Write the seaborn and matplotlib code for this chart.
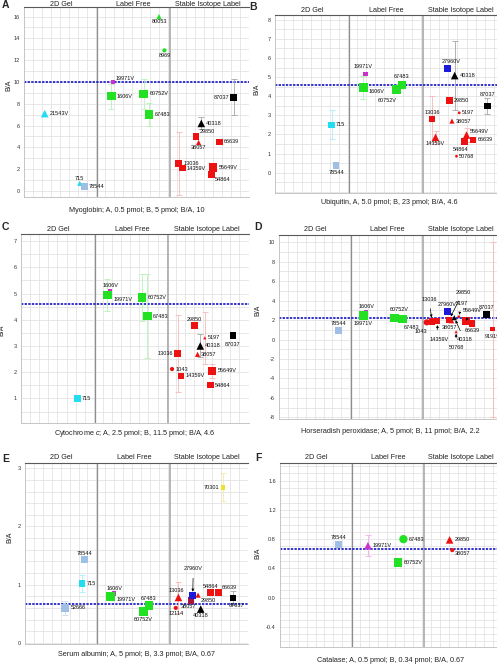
import numpy as np
import pandas as pd
import matplotlib
matplotlib.use("Agg")
import matplotlib.pyplot as plt
import seaborn as sns

sns.set_theme(style="white")
plt.rcParams["font.family"] = ["Liberation Sans", "DejaVu Sans"]
plt.rcParams["mathtext.fontset"] = "custom"
plt.rcParams["mathtext.it"] = "Liberation Sans:italic"
plt.rcParams["mathtext.rm"] = "Liberation Sans"
plt.rcParams["axes.unicode_minus"] = False

# ---------------- data ----------------
SECTIONS = ["2D Gel", "Label Free", "Stable Isotope Label"]
LAB_X = {"21543V": 2.3, "52666": 4.5, "715": 6.2, "78544": 6.7, "1606V": 9.7, "19971V": 9.9,
         "60752V": 13.3, "67483": 13.9, "80053": 15.0, "8969": 15.6, "1043": 16.6, "12114": 16.9,
         "13036": 17.2, "14359V": 17.6, "27960V": 18.9, "29850": 19.1, "38057": 19.4, "40318": 19.7,
         "50768": 19.9, "5197": 20.2, "54864": 20.8, "55649V": 21.0, "66639": 21.7, "70301": 22.2,
         "87037": 23.3, "91919": 24.0}

A_LABS = ["21543V", "715", "78544", "19971V", "1606V", "60752V", "67483", "80053", "8969",
          "13036", "14359V", "29850", "38057", "40318", "54864", "55649V", "66639", "87037"]
A_VALS = [7.1, 0.7, 0.4, 10.0, 8.7, 8.9, 7.0, 16.0, 12.9, 2.5, 2.1, 5.0, 4.45, 6.2, 1.5, 2.15, 4.5, 8.6]
A_ERRS = [0, 0, 0, 0, 1.15, 1.4, 1.05, 0, 0, 2.9, 0, 0, 0, 0.55, 0, 0, 0, 1.65]

B_LABS = ["715", "78544", "19971V", "1606V", "60752V", "67483", "13036", "14359V", "27960V",
          "29850", "40318", "5197", "38057", "50768", "54864", "55649V", "66639", "87037"]
B_VALS = [2.5, 0.37, 5.15, 4.45, 4.35, 4.6, 2.8, 1.85, 5.45, 3.78, 5.08, 3.13, 2.7, 0.86, 1.64, 1.97, 1.71, 3.49]
B_ERRS = [0.76, 0, 0, 0.6, 0, 0, 1.2, 0.35, 0, 0, 1.8, 0, 0, 0, 0, 0.35, 0, 0.42]

C_LABS = ["715", "1606V", "19971V", "60752V", "67483", "29850", "5197", "40318", "87037",
          "13036", "38057", "1043", "14359V", "55649V", "54864"]
C_VALS = [1.0, 5.1, 4.94, 4.85, 4.14, 3.78, 3.31, 3.0, 3.4, 2.72, 2.68, 2.12, 1.86, 2.05, 1.51]
C_ERRS = [0, 0, 0.6, 0.88, 1.6, 0, 1.0, 0.44, 0, 1.46, 0, 0, 0, 0.28, 0]

D_LABS = ["78544", "1606V", "19971V", "60752V", "67483", "1043", "13036", "14359V", "27960V",
          "29850", "38057", "40318", "5197", "55649V", "66639", "87037", "50768", "91919"]
D_VALS = [0.96, 2.8, 2.45, 2.19, 2.12, 1.77, 1.85, 1.9, 2.86, 2.0, 1.93, 2.25, 2.35, 1.93, 1.67, 2.6, 0.8, 1.08]
D_ERRS = [0, 0, 0, 0, 0, 0, 0, 0, 0, 0, 0, 0, 0, 0, 0, 0, 0, 9.0]

E_LABS = ["78544", "715", "52666", "1606V", "19971V", "60752V", "67483", "12114", "13036",
          "38057", "27960V", "29850", "40318", "54864", "66639", "87037", "70301"]
E_VALS = [1.43, 1.02, 0.6, 0.85, 0.8, 0.535, 0.64, 0.6, 0.78, 0.73, 0.81, 0.82, 0.58, 0.865, 0.865, 0.77, 2.67]
E_ERRS = [0, 0.15, 0.12, 0, 0, 0, 0, 0, 0.27, 0, 0, 0, 0, 0, 0, 0.12, 0.24]

F_LABS = ["78544", "19971V", "67483", "60752V", "29850", "38057"]
F_VALS = [0.73, 0.71, 0.8, 0.48, 0.79, 0.65]
F_ERRS = [0, 0.14, 0, 0, 0, 0]

TITLES = {"A": "Myoglobin; A, 0.5 pmol; B, 5 pmol; B/A, 10",
          "B": "Ubiquitin, A, 5.0 pmol; B, 23 pmol; B/A, 4.6",
          "C": "Cytochrome $c$; A, 2.5 pmol; B, 11.5 pmol; B/A, 4.6",
          "D": "Horseradish peroxidase; A, 5 pmol; B, 11 pmol; B/A, 2.2",
          "E": "Serum albumin; A, 5 pmol; B, 3.3 pmol; B/A, 0.67",
          "F": "Catalase; A, 0.5 pmol; B, 0.34 pmol; B/A, 0.67"}
REF = {"A": 10, "B": 4.6, "C": 4.6, "D": 2.2, "E": 0.67, "F": 0.67}
YTICKS = {"A": [0, 2, 4, 6, 8, 10, 12, 14, 16],
          "B": [0, 1, 2, 3, 4, 5, 6, 7, 8],
          "C": [1, 2, 3, 4, 5, 6, 7],
          "D": [-8, -6, -4, -2, 0, 2, 4, 6, 8, 10],
          "E": [0, 1, 2, 3],
          "F": [-0.4, 0.0, 0.4, 0.8, 1.2, 1.6]}

# ---------------- styles ----------------
A_STYLE = ["c^M", "c^S", "lsM", "msS", "gsL", "gsL", "gsL", "g^S", "goS",
           "rsM", "rsM", "rsM", "r^S", "k^M", "rsM", "rsL", "rsM", "ksM"]
A_LPOS = ["r", "a", "r", "ar", "r", "r", "r", "b", "b", "r", "r", "ar", "b", "r", "br", "r", "r", "l"]

B_STYLE = ["csM", "lsM", "msS", "gsL", "gsL", "gsL", "rsM", "r^M", "bsM",
           "rsM", "k^M", "roT", "r^S", "roT", "rsM", "r^M", "rsM", "ksM"]
B_LPOS = ["r", "b", (-2, 7.5, "center"), (5, -4, "left"), (-9, -10.5, "center"), (0, 8.3, "center"),
          "a", "b", (4, 7.3, "center"), "r", "r", "r", "r", "r", (-4, -8, "center"),
          (3.5, 3.3, "left"), "r", (0, 11.5, "center")]

C_STYLE = ["csM", "msS", "gsL", "gsL", "gsL", "rsM", "r^T", "k^M", "ksM",
           "rsM", "r^S", "roS", "rsM", "rsL", "rsM"]
C_LPOS = ["r", "a", (6, -4, "left"), "r", "r", "a", "r", "r", (0, -9, "center"),
          "l", "r", "r", "r", "r", "r"]

D_STYLE = ["lsM", "msS", "gsL", "gsL", "gsL", "roM", "rsM", "rsM", "bsM",
           "rsM", "r^S", "k^S", "roT", "rsL", "rsM", "ksM", "r^T", "rsS"]
D_LPOS = ["a", "a", "b", (4, 9, "center"), (8.6, -8.3, "center"), (-6, -8.7, "center"),
          (-3, 22, "center", True), (2.7, -18, "center", True), (0, 7.5, "center"),
          (14, 28, "center", True), (-1.7, -6.5, "center"), (10, -22, "center", True),
          (3, 13, "center", True), (6.5, 10.5, "center", True), (0, -7.5, "center"),
          (0, 7, "center"), (0, -15.5, "center", True), (0, -7, "center")]

E_STYLE = ["lsM", "csM", "lsL", "msS", "gsL", "gsL", "gsL", "roS", "r^M",
           "dsM", "bsM", "r^S", "k^M", "rsM", "rsM", "ksM", "ysS"]
E_LPOS = ["a", "r", "r", "a", (5.5, -3, "left"), "b", "a", "b", (-2.3, 6.6, "center"),
          (-2.7, -6.5, "center"), (0.6, 26.7, "center", True), (3, -5, "left"), "b", "a", "ar",
          (3.3, -7.5, "center"), "l"]

F_STYLE = ["lsM", "m^M", "goL", "gsL", "r^M", "roS"]
F_LPOS = ["a", "r", "r", "r", "r", "br"]

NUDGE = {"A": {}, "B": {},
         "C": {"1606V": 0.1, "19971V": -0.4},
         "D": {"1606V": 0.1, "19971V": -0.4, "60752V": -0.3, "14359V": 0.1},
         "E": {"1606V": 0.3, "19971V": -0.3, "715": 0.2, "38057": -0.8, "29850": 0.3,
               "27960V": -0.1},
         "F": {"78544": -0.1}}

COLORS = {"c": "#22dcef", "l": "#9fc0e4", "m": "#cc33cc", "g": "#22e022", "r": "#ee1111",
          "d": "#a8163e", "k": "#000000", "b": "#1a1ad8", "y": "#ece030"}
PALE = {"c": "#a8eef8", "l": "#c8dcef", "m": "#f0b0f0", "g": "#b4f2b4", "r": "#f6b8b8",
        "d": "#e0b0b8", "k": "#a6a6a6", "b": "#b0b0f0", "y": "#f3eda0"}
HALF = {"L": 4.25, "M": 3.35, "S": 2.25, "T": 1.3}      # half widths in px
AREA = {"sL": 37, "sM": 23, "sS": 10.5, "sT": 3.3,
        "^L": 42, "^M": 30, "^S": 14, "^T": 5,
        "oL": 36, "oM": 20, "oS": 9, "oT": 4}

# layout (pixel boxes: left, right, top, bottom)
W, H = 497, 665
POS = {"A": (24, 249, 7.3, 197), "B": (275, 503, 15, 192.7), "C": (21, 248.5, 234, 423.3),
       "D": (279, 501.5, 235, 419.3), "E": (25, 248, 463.3, 644), "F": (280, 502, 462.7, 647.3)}
YLIM = {"A": (-0.55, 16.85), "B": (-1.05, 8.25), "C": (0.05, 7.27), "D": (-8.2, 10.75),
        "E": (-0.02, 3.085), "F": (-0.68, 1.846)}
YMINOR = {"A": 1, "B": 0.5, "C": 0.5, "D": 1, "E": 0.2, "F": 0.1}
XLAB_DY = {"A": 13, "B": 9.5, "C": 10, "D": 12, "E": 11, "F": 13}
HEAD_DY = {"A": 1.0, "B": 2.7, "C": 3.3, "D": 4.0, "E": 4.5, "F": 3.7}
YLAB_PX = {"A": (12.5, 0.59), "B": (260.5, 0.58), "C": (5.5, 0.49), "D": (261, 0.59),
           "E": (13.5, 0.59), "F": (261, 0.51)}
LETTER_PX = {"A": (2, 0), "B": (249, 2), "C": (2, 222), "D": (254, 222), "E": (2, 454), "F": (255, 453)}

PANELS = {"A": (A_LABS, A_VALS, A_ERRS, A_STYLE, A_LPOS),
          "B": (B_LABS, B_VALS, B_ERRS, B_STYLE, B_LPOS),
          "C": (C_LABS, C_VALS, C_ERRS, C_STYLE, C_LPOS),
          "D": (D_LABS, D_VALS, D_ERRS, D_STYLE, D_LPOS),
          "E": (E_LABS, E_VALS, E_ERRS, E_STYLE, E_LPOS),
          "F": (F_LABS, F_VALS, F_ERRS, F_STYLE, F_LPOS)}

PT = 0.72  # points per pixel at dpi 100
fig = plt.figure(figsize=(W / 100, H / 100), dpi=100)
fig.patch.set_facecolor("white")

for key, (labs, vals, errs, styles, lpos) in PANELS.items():
    l, r, t, b = POS[key]
    ax = fig.add_axes([l / W, 1 - b / H, (r - l) / W, (b - t) / H])
    ax.set_facecolor("white")
    xs = [LAB_X[lab] + NUDGE[key].get(lab, 0) for lab in labs]
    df = pd.DataFrame({"x": xs, "y": vals, "col": [s[0] for s in styles],
                       "mk": [s[1] for s in styles], "sk": [s[1] + s[2] for s in styles]})

    # grid, dividers, reference line
    ax.set_xlim(0, 25)
    ax.set_ylim(*YLIM[key])
    ax.set_xticks(np.arange(1, 25, 1))
    ax.set_xticklabels([])
    ax.set_yticks(YTICKS[key])
    lo, hi = YLIM[key]
    step = YMINOR[key]
    ax.set_yticks(np.arange(np.ceil(lo / step) * step, hi, step), minor=True)
    ax.grid(True, which="both", color="#e1e1e1", lw=0.55, zorder=0)
    ax.set_axisbelow(True)
    ax.axvline(8.1, color="#8e8e8e", lw=0.9, zorder=1)
    ax.axvline(16.2, color="#a9a9a9", lw=1.2, zorder=1)
    ax.axhline(REF[key], color="#2424c8", lw=1.3, ls=(0, (1.3, 0.7)), zorder=2)

    # error bars
    for x, y, e, s in zip(xs, vals, errs, styles):
        if e > 0:
            ax.errorbar([x], [y], yerr=[e], fmt="none", ecolor=PALE[s[0]], elinewidth=0.6,
                        capsize=2.3, capthick=0.6, zorder=2.5)

    sns.scatterplot(data=df, x="x", y="y", hue="col",
                    palette={c: COLORS[c] for c in df["col"].unique()},
                    style="mk", markers={m: m for m in df["mk"].unique()},
                    size="sk", sizes={k: AREA[k] for k in df["sk"].unique()},
                    linewidth=0, legend=False, ax=ax, zorder=4)

    # point labels
    for x, y, lab, s, p in zip(xs, vals, labs, styles, lpos):
        hw = HALF[s[2]]
        arrow = False
        if isinstance(p, tuple):
            dx, dy, ha = p[0], p[1], p[2]
            va = "center"
            arrow = len(p) > 3
        else:
            g = hw + 1.3
            dx, dy, ha, va = {"r": (g, 0, "left", "center"), "l": (-g, 0, "right", "center"),
                              "a": (0, hw + 0.6, "center", "bottom"), "b": (0, -(hw + 0.6), "center", "top"),
                              "ar": (hw, hw * 0.6, "left", "bottom"), "br": (hw, -hw * 0.6, "left", "top"),
                              "bl": (-hw, -hw * 0.6, "right", "top"), "al": (-hw, hw * 0.6, "right", "bottom")}[p]
        kw = {}
        if arrow:
            kw["arrowprops"] = dict(arrowstyle="-|>", lw=0.5, color="black", mutation_scale=3.5,
                                    shrinkA=2.5, shrinkB=hw * PT + 0.5)
        ax.annotate(lab, (x, y), xytext=(dx * PT, dy * PT), textcoords="offset points",
                    ha=ha, va=va, fontsize=4, color="#111111", zorder=6, **kw)

    # section headers
    for name, cx in zip(SECTIONS, [4.1, 12.2, 20.4]):
        ax.annotate(name, xy=(cx, 1), xycoords=("data", "axes fraction"), xytext=(0, HEAD_DY[key] * PT),
                    textcoords="offset points", ha="center", va="baseline", fontsize=5.2, color="#222222")

    # axis styling
    ax.tick_params(axis="both", which="both", length=0, labelsize=4, pad=3, colors="#333333")
    fmt = "{:.1f}" if key == "F" else "{:g}"
    ax.set_yticklabels([fmt.format(v) for v in YTICKS[key]])
    ax.set_xlabel("")
    ax.set_ylabel("B/A", fontsize=5, color="#222222")
    lx, ly = YLAB_PX[key]
    ax.yaxis.set_label_coords((lx - l) / (r - l), ly)
    ax.annotate(TITLES[key], (0.5, 0), xycoords="axes fraction", xytext=(0, -XLAB_DY[key] * PT),
                textcoords="offset points", ha="center", va="center", fontsize=5.25, color="#222222")
    for side in ["left", "bottom"]:
        ax.spines[side].set_color("#bdbdbd")
        ax.spines[side].set_linewidth(0.6)
    ax.spines["top"].set_color("#5a5a5a")
    ax.spines["top"].set_linewidth(0.8)
    ax.spines["right"].set_visible(False)

    lxp, lyp = LETTER_PX[key]
    fig.text(lxp / W, 1 - lyp / H, key, fontsize=7.5, fontweight="bold", ha="left", va="top")

fig.savefig("out.png", dpi=100, facecolor="white")
